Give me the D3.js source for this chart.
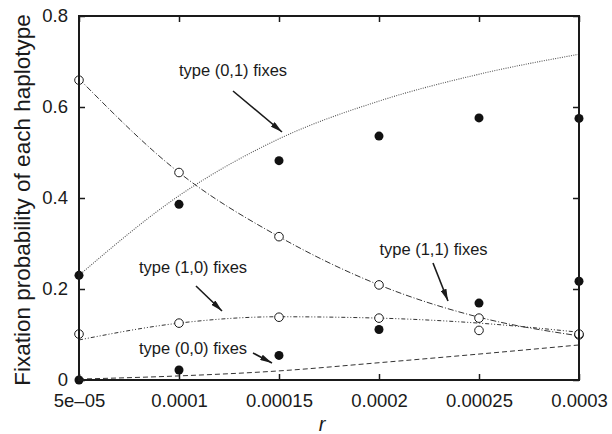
<html>
<head>
<meta charset="utf-8">
<title>Fixation probability</title>
<style>
    body { margin: 0; padding: 0; background: white; }
    svg text { font-family: "Liberation Sans", Arial, sans-serif; fill: #1a1a1a; }
    .tick line { stroke: #1a1a1a; stroke-width: 1.5; }
    .domain { display: none; }
</style>
</head>
<body>
<div id="chart"></div>
<script src="https://d3js.org/d3.v7.min.js"></script>
<script>
// recombination rates on the x axis
var rValues = [5e-5, 1e-4, 1.5e-4, 2e-4, 2.5e-4, 3e-4];
var xTickLabels = ["5e\u201305", "0.0001", "0.00015", "0.0002", "0.00025", "0.0003"];
var yTicks = [0, 0.2, 0.4, 0.6, 0.8];

// simulation results (points)
var sim01 = [0.23, 0.386, 0.482, 0.536, 0.576, 0.575];
var sim00 = [0.0, 0.022, 0.054, 0.111, 0.169, 0.217];
var sim11 = [0.659, 0.456, 0.315, 0.209, 0.136, 0.099];
var sim10 = [0.101, 0.125, 0.138, 0.136, 0.109, 0.101];

// theory curves
var theory01 = [0.23, 0.405, 0.53, 0.613, 0.672, 0.716];
var theory11 = [0.662, 0.456, 0.315, 0.209, 0.138, 0.097];
var theory10 = [0.088, 0.125, 0.139, 0.136, 0.125, 0.105];
var theory00 = [0.002, 0.009, 0.02, 0.038, 0.057, 0.077];

var width = 612, height = 434;
var margin = {top: 16, right: 33, bottom: 54, left: 79};

var svg = d3.select("#chart").append("svg")
    .attr("width", width)
    .attr("height", height);

var x = d3.scaleLinear()
    .domain([5e-5, 3e-4])
    .range([margin.left, width - margin.right]);

var y = d3.scaleLinear()
    .domain([0, 0.8])
    .range([height - margin.bottom, margin.top]);

svg.append("defs").append("marker")
    .attr("id", "head")
    .attr("viewBox", "0 0 12 6")
    .attr("refX", 12)
    .attr("refY", 3)
    .attr("markerWidth", 12)
    .attr("markerHeight", 6)
    .attr("markerUnits", "userSpaceOnUse")
    .attr("orient", "auto")
    .append("path")
    .attr("d", "M0,0L12,3L0,6Z")
    .attr("fill", "#1a1a1a");

var line = d3.line()
    .x(function(d, i) { return x(rValues[i]); })
    .y(function(d) { return y(d); })
    .curve(d3.curveMonotoneX);

var curves = [
    {values: theory01, dash: "1,1.3", color: "#555", w: 1.1},
    {values: theory11, dash: "6,2,1,2", color: "#333", w: 1},
    {values: theory10, dash: "4,2,1,2,1,2", color: "#333", w: 1},
    {values: theory00, dash: "5,3", color: "#333", w: 1}
];

svg.append("g").selectAll("path")
    .data(curves)
    .enter()
    .append("path")
    .attr("d", function(d) { return line(d.values); })
    .attr("fill", "none")
    .attr("stroke", function(d) { return d.color; })
    .attr("stroke-width", function(d) { return d.w; })
    .attr("stroke-dasharray", function(d) { return d.dash; });

// open circles
[sim11, sim10].forEach(function(series) {
    svg.append("g").selectAll("circle")
        .data(series)
        .enter()
        .append("circle")
        .attr("cx", function(d, i) { return x(rValues[i]); })
        .attr("cy", function(d) { return y(d); })
        .attr("r", 4.3)
        .attr("fill", "white")
        .attr("stroke", "#1a1a1a")
        .attr("stroke-width", 1);
});

// filled circles
[sim01, sim00].forEach(function(series) {
    svg.append("g").selectAll("circle")
        .data(series)
        .enter()
        .append("circle")
        .attr("cx", function(d, i) { return x(rValues[i]); })
        .attr("cy", function(d) { return y(d); })
        .attr("r", 4.5)
        .attr("fill", "#111");
});

// axes, ticks point inward
var xAxis = svg.append("g")
    .attr("transform", "translate(0," + (height - margin.bottom) + ")")
    .call(d3.axisBottom(x)
        .tickValues(rValues)
        .tickFormat(function(d, i) { return xTickLabels[i]; })
        .tickSize(-6)
        .tickPadding(14));
xAxis.selectAll("text").style("font-size", "18.5px");

var yAxis = svg.append("g")
    .attr("transform", "translate(" + margin.left + ",0)")
    .call(d3.axisLeft(y)
        .tickValues(yTicks)
        .tickFormat(function(d) { return d === 0 ? "0" : d3.format(".1f")(d); })
        .tickSize(-6)
        .tickPadding(11));
yAxis.selectAll("text").style("font-size", "18.5px");

svg.append("g")
    .attr("transform", "translate(0," + margin.top + ")")
    .call(d3.axisTop(x).tickValues(rValues).tickFormat("").tickSize(-6));

svg.append("g")
    .attr("transform", "translate(" + (width - margin.right) + ",0)")
    .call(d3.axisRight(y).tickValues(yTicks).tickFormat("").tickSize(-6));

svg.append("rect")
    .attr("x", margin.left)
    .attr("y", margin.top)
    .attr("width", width - margin.left - margin.right)
    .attr("height", height - margin.top - margin.bottom)
    .attr("fill", "none")
    .attr("stroke", "#1a1a1a")
    .attr("stroke-width", 2);

// axis titles
svg.append("text")
    .attr("transform", "translate(30," + 200 + ") rotate(-90)")
    .attr("text-anchor", "middle")
    .style("font-size", "22.5px")
    .text("Fixation probability of each haplotype");

svg.append("text")
    .attr("x", 322)
    .attr("y", 431)
    .attr("text-anchor", "middle")
    .style("font-size", "20px")
    .style("font-style", "italic")
    .text("r");

// labels with arrows
var notes = [
    {text: "type (0,1) fixes", tx: 233, ty: 76, x1: 233, y1: 91, x2: 282, y2: 132},
    {text: "type (1,1) fixes", tx: 433.5, ty: 255, x1: 433, y1: 263, x2: 448, y2: 301},
    {text: "type (1,0) fixes", tx: 193, ty: 273, x1: 196, y1: 286, x2: 222, y2: 311},
    {text: "type (0,0) fixes", tx: 193, ty: 354, x1: 253, y1: 353, x2: 272, y2: 363}
];

var noteG = svg.append("g");
noteG.selectAll("text")
    .data(notes)
    .enter()
    .append("text")
    .attr("x", function(d) { return d.tx; })
    .attr("y", function(d) { return d.ty; })
    .attr("text-anchor", "middle")
    .style("font-size", "16.5px")
    .text(function(d) { return d.text; });

noteG.selectAll("line")
    .data(notes)
    .enter()
    .append("line")
    .attr("x1", function(d) { return d.x1; })
    .attr("y1", function(d) { return d.y1; })
    .attr("x2", function(d) { return d.x2; })
    .attr("y2", function(d) { return d.y2; })
    .attr("stroke", "#1a1a1a")
    .attr("stroke-width", 1.6)
    .attr("marker-end", "url(#head)");
</script>
</body>
</html>
